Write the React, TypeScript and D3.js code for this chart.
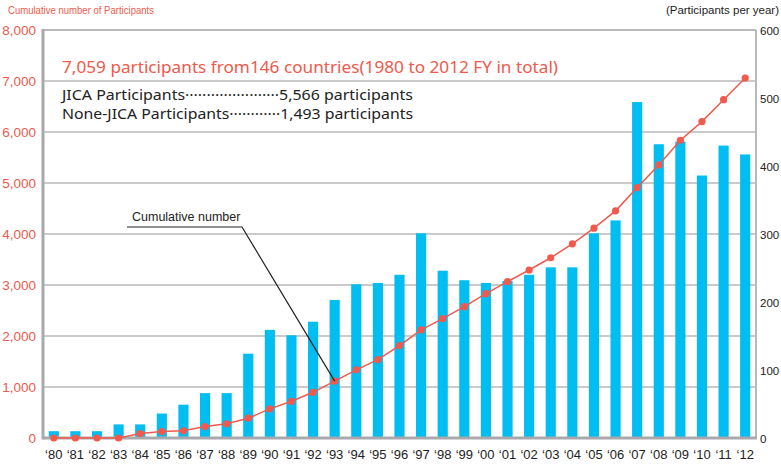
import React, { useEffect, useRef } from "react"
import * as d3 from "d3"

// fiscal years 1980 - 2012
const years: string[] = [
    "80", "81", "82", "83", "84", "85", "86", "87", "88", "89",
    "90", "91", "92", "93", "94", "95", "96", "97", "98", "99",
    "00", "01", "02", "03", "04", "05", "06", "07", "08", "09",
    "10", "11", "12",
]

// participants per year (right axis)
const perYear: number[] = [
    10, 10, 10, 20, 20, 36, 49, 66, 66, 124,
    159, 151, 171, 203, 226, 228, 240, 301, 246, 232,
    228, 231, 240, 251, 251, 301, 320, 494, 432, 436,
    386, 430, 417,
]

// cumulative number (left axis)
const cumulative: number[] = [
    0, 0, 0, 0, 88, 127, 141, 225, 278, 388,
    572, 720, 896, 1115, 1337, 1538, 1812, 2119, 2341, 2575,
    2830, 3065, 3294, 3534, 3808, 4115, 4454, 4912, 5354, 5838,
    6204, 6634, 7059,
]

const leftTicks: number[] = [0, 1000, 2000, 3000, 4000, 5000, 6000, 7000, 8000]
const rightTicks: number[] = [0, 100, 200, 300, 400, 500, 600]

const titleText = "7,059 participants from146 countries(1980 to 2012 FY in total)"
const jicaLine = "JICA Participants\u00b7\u00b7\u00b7\u00b7\u00b7\u00b7\u00b7\u00b7\u00b7\u00b7\u00b7\u00b7\u00b7\u00b7\u00b7\u00b7\u00b7\u00b7\u00b7\u00b7\u00b7\u00b75,566 participants"
const noneJicaLine = "None-JICA Participants\u00b7\u00b7\u00b7\u00b7\u00b7\u00b7\u00b7\u00b7\u00b7\u00b7\u00b7\u00b71,493 participants"

const W = 781
const H = 465
const margin = { left: 43, right: 25, top: 30, bottom: 27 }

const RED = "#f0594b"
const BLUE = "#00bdf2"
const GRID = "#b9b9bb"
const font = "'Liberation Sans', Arial, sans-serif"
const font2 = "'Noto Sans', 'DejaVu Sans', sans-serif"

function App() {
    const ref = useRef<SVGSVGElement>(null)

    useEffect(() => {
        const svg = d3.select(ref.current)
        svg.selectAll("*").remove()

        const x0 = margin.left
        const x1 = W - margin.right
        const y0 = H - margin.bottom
        const y1 = margin.top

        const x = d3.scaleBand<string>().domain(years).range([x0, x1]).paddingInner(0.53).paddingOuter(0.265)
        const yL = d3.scaleLinear().domain([0, 8000]).range([y0, y1])
        const yR = d3.scaleLinear().domain([0, 600]).range([y0, y1])

        // gridlines
        svg.append("g")
            .selectAll("line")
            .data(leftTicks.filter(d => d > 0 && d < 8000))
            .join("line")
            .attr("x1", x0).attr("x2", x1)
            .attr("y1", d => yL(d)).attr("y2", d => yL(d))
            .attr("stroke", GRID).attr("stroke-width", 1.5)

        // frame
        svg.append("line").attr("x1", x0).attr("x2", x1).attr("y1", y1).attr("y2", y1)
            .attr("stroke", GRID).attr("stroke-width", 2)
        svg.append("line").attr("x1", x1).attr("x2", x1).attr("y1", y1).attr("y2", y0)
            .attr("stroke", GRID).attr("stroke-width", 2)

        // bars
        svg.append("g")
            .selectAll("rect")
            .data(perYear)
            .join("rect")
            .attr("x", (_, i) => x(years[i]) as number)
            .attr("width", x.bandwidth())
            .attr("y", d => yR(d))
            .attr("height", d => y0 - yR(d))
            .attr("fill", BLUE)

        // left & bottom axis lines
        svg.append("line").attr("x1", x0).attr("x2", x0).attr("y1", y1 - 1).attr("y2", y0 + 1.5)
            .attr("stroke", "#a9a9ad").attr("stroke-width", 3)
        svg.append("line").attr("x1", x0).attr("x2", x1 + 1).attr("y1", y0).attr("y2", y0)
            .attr("stroke", "#a9a9ad").attr("stroke-width", 3)

        // cumulative line
        const cx = (i: number) => (x(years[i]) as number) + x.bandwidth() / 2
        const line = d3.line<number>().x((_, i) => cx(i)).y(d => yL(d))
        svg.append("path").datum(cumulative)
            .attr("d", line)
            .attr("fill", "none")
            .attr("stroke", RED)
            .attr("stroke-width", 1.5)
        svg.append("g")
            .selectAll("circle")
            .data(cumulative)
            .join("circle")
            .attr("cx", (_, i) => cx(i))
            .attr("cy", d => yL(d))
            .attr("r", 3.6)
            .attr("fill", RED)

        // left axis labels
        svg.append("g")
            .selectAll("text")
            .data(leftTicks)
            .join("text")
            .attr("x", 36)
            .attr("y", d => yL(d) + 5)
            .attr("text-anchor", "end")
            .attr("font-family", font)
            .attr("font-size", 13.5)
            .attr("fill", RED)
            .text(d => d3.format(",")(d))

        // right axis labels
        svg.append("g")
            .selectAll("text")
            .data(rightTicks)
            .join("text")
            .attr("x", 760)
            .attr("y", d => yR(d) + 4.5)
            .attr("font-family", font)
            .attr("font-size", 11.5)
            .attr("fill", "#222")
            .text(d => String(d))

        // x labels
        svg.append("g")
            .selectAll("text")
            .data(years)
            .join("text")
            .attr("x", (_, i) => cx(i))
            .attr("y", 459)
            .attr("text-anchor", "middle")
            .attr("font-family", font)
            .attr("font-size", 13)
            .attr("fill", "#222")
            .text(d => "\u2018" + d)

        // axis titles
        svg.append("text").attr("x", 8).attr("y", 14)
            .attr("font-family", font).attr("font-size", 11.5).attr("fill", RED)
            .attr("textLength", 146).attr("lengthAdjust", "spacingAndGlyphs")
            .text("Cumulative number of Participants")
        svg.append("text").attr("x", 779).attr("y", 14).attr("text-anchor", "end")
            .attr("font-family", font).attr("font-size", 11.5).attr("fill", "#222")
            .text("(Participants per year)")

        // headline
        svg.append("text").attr("x", 62).attr("y", 73)
            .attr("font-family", font2).attr("font-size", 17).attr("fill", RED)
            .attr("textLength", 496).attr("lengthAdjust", "spacingAndGlyphs")
            .text(titleText)
        svg.append("text").attr("x", 62).attr("y", 100)
            .attr("font-family", font2).attr("font-size", 14).attr("fill", "#222")
            .attr("textLength", 351).attr("lengthAdjust", "spacingAndGlyphs")
            .text(jicaLine)
        svg.append("text").attr("x", 62).attr("y", 119)
            .attr("font-family", font2).attr("font-size", 14).attr("fill", "#222")
            .attr("textLength", 351).attr("lengthAdjust", "spacingAndGlyphs")
            .text(noneJicaLine)

        // annotation
        const target = 13
        svg.append("text").attr("x", 132).attr("y", 221)
            .attr("font-family", font).attr("font-size", 12.5).attr("fill", "#222")
            .text("Cumulative number")
        svg.append("path")
            .attr("d", `M127,227 L242,227 L${cx(target)},${yL(cumulative[target])}`)
            .attr("fill", "none")
            .attr("stroke", "#222")
            .attr("stroke-width", 1.2)
    }, [])

    return (
        <svg ref={ref} width={W} height={H} style={{ position: "absolute", left: 0, top: 0, background: "#fff" }} />
    )
}

export default App
